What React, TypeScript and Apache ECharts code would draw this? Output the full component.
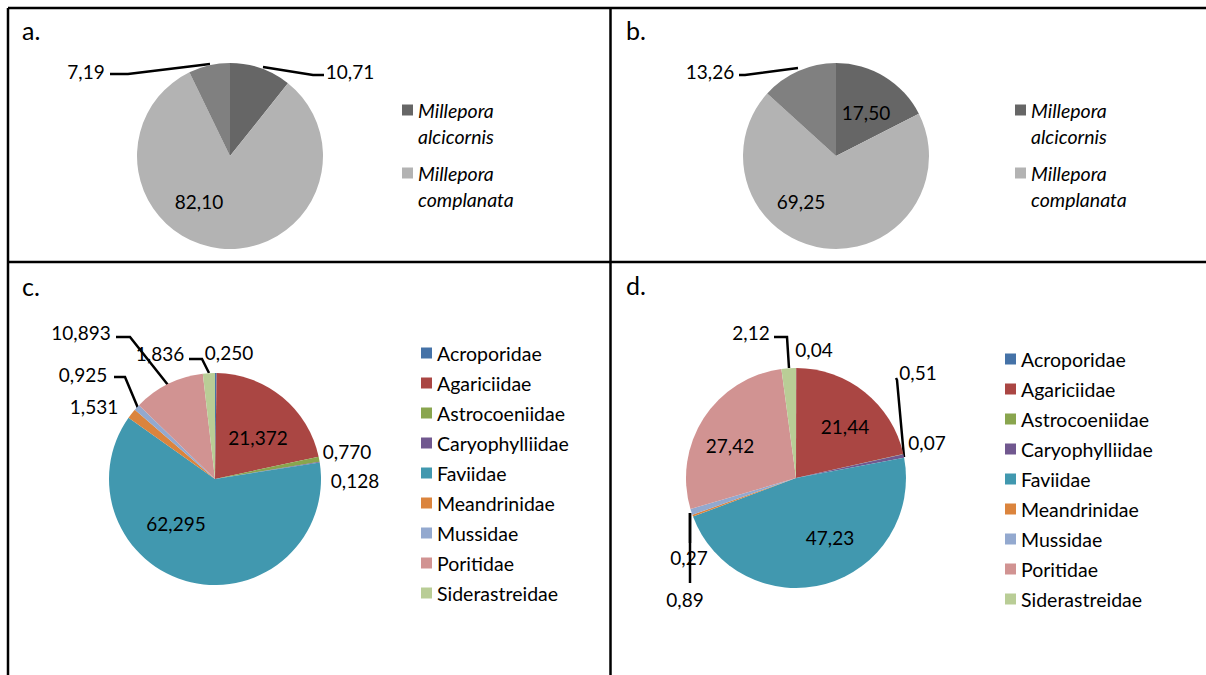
import React, { useEffect, useRef } from "react";
import * as echarts from "echarts";

// ---------- data ----------
const milleporaNames = ["Millepora alcicornis", "Millepora complanata", ""];
const panelAValues = [10.71, 82.1, 7.19];
const panelBValues = [17.5, 69.25, 13.26];

const families = [
  "Acroporidae",
  "Agariciidae",
  "Astrocoeniidae",
  "Caryophylliidae",
  "Faviidae",
  "Meandrinidae",
  "Mussidae",
  "Poritidae",
  "Siderastreidae",
];
const panelCValues = [0.25, 21.372, 0.77, 0.128, 62.295, 1.531, 0.925, 10.893, 1.836];
const panelDValues = [0.04, 21.44, 0.07, 0.51, 47.23, 0.27, 0.89, 27.42, 2.12];

const panelTitles = ["a.", "b.", "c.", "d."];

// ---------- styles ----------
const greyColors = ["#666666", "#b3b3b3", "#808080"];
const familyColors = [
  "#4572A7",
  "#AA4643",
  "#89A54E",
  "#71588F",
  "#4198AF",
  "#DB843D",
  "#93A9CF",
  "#D19392",
  "#B9CD96",
];
const FONT = "Lato, 'Open Sans', sans-serif";

type LabelPos = { x: number; y: number; line?: number[][] };

const labelsA: LabelPos[] = [
  { x: 350, y: 71, line: [[263, 67], [313, 75], [324, 75]] },
  { x: 199, y: 201 },
  { x: 86, y: 71, line: [[210, 64], [128, 74], [110, 74]] },
];
const labelsB: LabelPos[] = [
  { x: 866, y: 112 },
  { x: 801, y: 201 },
  { x: 710, y: 71, line: [[798, 68], [745, 75], [739, 75]] },
];
const labelsC: LabelPos[] = [
  { x: 229, y: 352 },
  { x: 258, y: 437 },
  { x: 347, y: 451 },
  { x: 355, y: 480 },
  { x: 176, y: 523 },
  { x: 94, y: 406 },
  { x: 83, y: 374, line: [[138, 408], [125, 377], [114, 377]] },
  { x: 81, y: 332, line: [[168, 385], [130, 337], [116, 337]] },
  { x: 160, y: 353, line: [[209, 373], [202, 359], [189, 359]] },
];
const labelsD: LabelPos[] = [
  { x: 814, y: 349 },
  { x: 845, y: 426 },
  { x: 927, y: 442 },
  { x: 918, y: 372, line: [[904, 457], [897, 380], [896, 378]] },
  { x: 830, y: 537 },
  { x: 689, y: 557, line: [[690, 513], [690, 543], [690, 543]] },
  { x: 685, y: 599, line: [[690, 513], [690, 583], [690, 583]] },
  { x: 730, y: 445 },
  { x: 751, y: 332, line: [[789, 368], [787, 337], [774, 337]] },
];

function makePie(
  names: string[],
  values: number[],
  colors: string[],
  labels: LabelPos[],
  decimals: number,
  center: number[],
  radius: number
) {
  return {
    type: "pie",
    center,
    radius,
    startAngle: 90,
    clockwise: true,
    avoidLabelOverlap: false,
    silent: true,
    emphasis: { disabled: true },
    itemStyle: { borderWidth: 0 },
    label: {
      show: true,
      position: "outside",
      color: "#000",
      fontFamily: FONT,
      fontSize: 19,
      formatter: (p: any) => Number(p.value).toFixed(decimals).replace(".", ","),
    },
    labelLine: {
      show: true,
      length: 5,
      length2: 5,
      lineStyle: { color: "#000", width: 2.5 },
    },
    labelLayout: (p: any) => {
      const l = labels[p.dataIndex];
      const out: any = { x: l.x, y: l.y, align: "center", verticalAlign: "middle" };
      if (l.line) out.labelLinePoints = l.line;
      return out;
    },
    data: values.map((v, i) => ({
      name: names[i],
      value: v,
      itemStyle: { color: colors[i] },
      labelLine: { show: !!labels[i].line },
    })),
  };
}

const L = 26.5;
function milleporaLegend(left: number) {
  return {
    left,
    top: 110 - 1.5 * L,
    orient: "vertical",
    padding: 0,
    icon: "rect",
    itemWidth: 11,
    itemHeight: 11,
    itemGap: 63 - 3 * L,
    selectedMode: false,
    data: milleporaNames.slice(0, 2),
    // leading empty line keeps the first word level with the square
    formatter: (n: string) => "\n" + n.replace(" ", "\n"),
    textStyle: {
      color: "#000",
      fontFamily: FONT,
      fontStyle: "italic",
      fontSize: 19.5,
      lineHeight: L,
    },
  };
}
function familyLegend(left: number, firstCenter: number) {
  return {
    left,
    top: firstCenter - 10,
    orient: "vertical",
    padding: 0,
    icon: "rect",
    itemWidth: 11,
    itemHeight: 11,
    itemGap: 10,
    selectedMode: false,
    data: families,
    textStyle: { color: "#000", fontFamily: FONT, fontSize: 19.5, lineHeight: 20 },
  };
}

function titleAt(text: string, left: number, top: number) {
  return {
    text,
    left,
    top,
    padding: 0,
    textStyle: { color: "#000", fontFamily: FONT, fontSize: 25, fontWeight: "normal", lineHeight: 26 },
  };
}

export default function App() {
  const ref = useRef<HTMLDivElement>(null);
  useEffect(() => {
    if (!ref.current) return;
    const chart = echarts.init(ref.current, undefined, { renderer: "svg" });
    const border = { stroke: "#000", lineWidth: 2.5 };
    chart.setOption({
      animation: false,
      backgroundColor: "#fff",
      title: [
        titleAt(panelTitles[0], 22, 17),
        titleAt(panelTitles[1], 626, 17),
        titleAt(panelTitles[2], 22, 273),
        titleAt(panelTitles[3], 626, 272),
      ],
      legend: [
        milleporaLegend(402),
        milleporaLegend(1015),
        familyLegend(421, 353),
        familyLegend(1005, 359),
      ],
      graphic: [
        { type: "line", shape: { x1: 8, y1: 8, x2: 1206, y2: 8 }, style: border },
        { type: "line", shape: { x1: 8, y1: 8, x2: 8, y2: 675 }, style: border },
        { type: "line", shape: { x1: 610.5, y1: 8, x2: 610.5, y2: 675 }, style: border },
        { type: "line", shape: { x1: 8, y1: 262, x2: 1206, y2: 262 }, style: border },
      ],
      series: [
        makePie(milleporaNames, panelAValues, greyColors, labelsA, 2, [230, 156], 93),
        makePie(milleporaNames, panelBValues, greyColors, labelsB, 2, [836, 156], 93),
        makePie(families, panelCValues, familyColors, labelsC, 3, [215, 479], 106),
        makePie(families, panelDValues, familyColors, labelsD, 2, [796, 478], 110),
      ],
    });
    return () => chart.dispose();
  }, []);
  return (
    <div
      ref={ref}
      style={{ position: "fixed", left: 0, top: 0, width: 1206, height: 675, background: "#fff" }}
    />
  );
}
